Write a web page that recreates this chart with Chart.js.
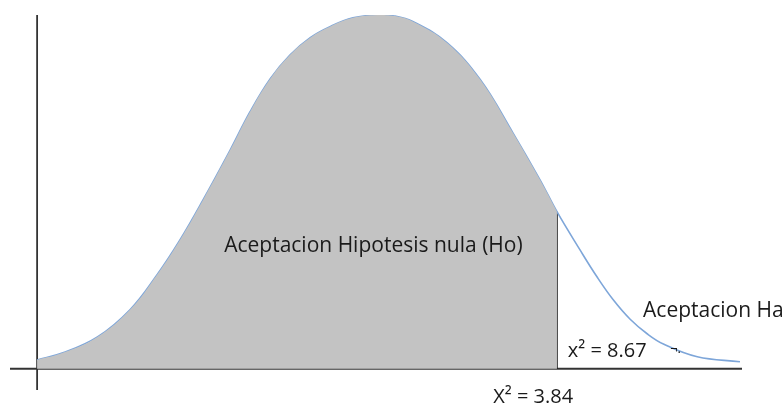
<!DOCTYPE html>
<html>
<head>
<meta charset="utf-8">
<script src="https://cdn.jsdelivr.net/npm/chart.js@4"></script>
<style>
  html, body { margin: 0; padding: 0; background: #fff; }
  #wrap { width: 782px; height: 405px; }
</style>
</head>
<body>
<div id="wrap"><canvas id="curveChart"></canvas></div>
<script>
// Curve (x in arbitrary units, y as % of peak height)
const curveX = [0, 3.8, 8.9, 13.7, 17.7, 21.1, 24.5, 28.5, 31.4, 34.4, 37.3, 40.3, 43.2, 46.6, 50.2, 52.8, 55.5, 60.5, 65.4, 70.2, 74.2, 76.7, 80.1, 82.6, 85.0, 87.5, 90.0, 92.4, 97.4, 103.7];
const curveY = [2.5, 4.5, 9.0, 16.7, 26.6, 36.5, 47.8, 61.9, 72.6, 82.0, 88.7, 93.6, 96.7, 99.2, 100, 99.7, 98.1, 92.1, 81.7, 66.7, 53.4, 44.4, 33.6, 26.0, 19.5, 14.0, 9.9, 7.0, 3.4, 2.0];

// critical value position on the x axis
const cutoffX = 76.7;
const cutoffY = 44.4;

const labels = [
    { text: 'Aceptacion Hipotesis nula (Ho)', x: 27.6, y: 34.8, size: 21 },
    { text: 'Aceptacion Ha', x: 89.4, y: 16.4, size: 21 },
    { text: 'x² = 8.67', x: 78.3, y: 4.8, size: 20 },
    { text: 'X² = 3.84', x: 67.3, y: -8.2, size: 20 },
    { text: '¬.', x: 93.4, y: 5.6, size: 13 },
];

const points = curveX.map((x, i) => ({ x: x, y: curveY[i] }));
const accepted = points.filter(p => p.x <= cutoffX);

// text labels drawn on top
const textPlugin = {
    id: 'textLabels',
    afterDraw(chart) {
        const c = chart.ctx;
        const xs = chart.scales.x, ys = chart.scales.y;
        c.save();
        c.fillStyle = '#1a1a1a';
        c.textBaseline = 'middle';
        c.textAlign = 'left';
        labels.forEach(l => {
            c.font = l.size + 'px "Open Sans", sans-serif';
            c.fillText(l.text, xs.getPixelForValue(l.x), ys.getPixelForValue(l.y));
        });
        c.restore();
    }
};

const ctx = document.getElementById('curveChart').getContext('2d');

new Chart(ctx, {
    type: 'line',
    data: {
        datasets: [
            {
                // shaded acceptance region
                data: accepted,
                borderWidth: 0,
                backgroundColor: '#c3c3c3',
                fill: 'origin',
                pointRadius: 0,
                tension: 0.4,
            },
            {
                // full density curve
                data: points,
                borderColor: '#7ea6d9',
                borderWidth: 1.6,
                fill: false,
                pointRadius: 0,
                tension: 0.4,
            },
            {
                // critical value line
                data: [{ x: cutoffX, y: 0 }, { x: cutoffX, y: cutoffY }],
                borderColor: '#1a1a1a',
                borderWidth: 1.6,
                pointRadius: 0,
                fill: false,
            },
            {
                // x axis line
                data: [{ x: -4, y: 0 }, { x: 104, y: 0 }],
                borderColor: '#333',
                borderWidth: 1.8,
                pointRadius: 0,
                fill: false,
            },
            {
                // y axis line
                data: [{ x: 0, y: -6 }, { x: 0, y: 100 }],
                borderColor: '#333',
                borderWidth: 1.8,
                pointRadius: 0,
                fill: false,
            },
        ],
    },
    options: {
        responsive: true,
        maintainAspectRatio: false,
        animation: false,
        layout: { padding: { left: 10, right: 40, top: 15, bottom: 15 } },
        plugins: {
            legend: { display: false },
            tooltip: { enabled: false },
        },
        scales: {
            x: { type: 'linear', min: -4, max: 104, display: false },
            y: { min: -6, max: 100, display: false },
        },
    },
    plugins: [textPlugin],
});
</script>
</body>
</html>
